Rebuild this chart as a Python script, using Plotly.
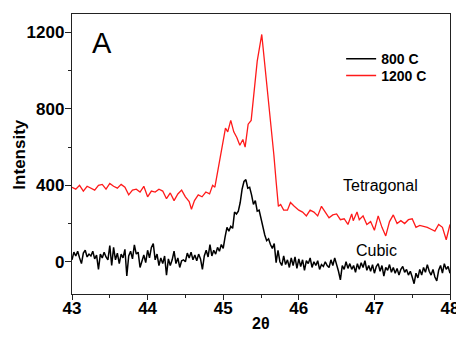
import plotly.graph_objects as go

# 800 C series (black), 2-theta step 0.025 from 43 to 48
x_800_start = 43.0
x_800_step = 0.025
y_800 = [
    10, 50, 30, 55, 20, -10, 45, 60, 25, 40,
    30, 55, 15, 35, -40, 40, 20, 50, 25, 10,
    85, -20, 75, 10, 45, -10, 40, 20, 65, -75,
    30, 55, 15, 88, 40, 50, -30, 10, 35, -5,
    60, 20, 75, 95, 10, 40, -20, 20, -10, 30,
    -70, 15, -20, 10, 55, -10, 20, -30, 5, 10,
    0, 45, 20, 50, 10, 35, 5, 40, 15, -40,
    30, 60, 25, 90, 30, 60, 40, 75, 55, 90,
    70, 130, 180, 160, 185, 175, 260, 250, 265, 310,
    380, 420, 430, 385, 390, 350, 300, 320, 265, 270,
    220, 175, 140, 110, 120, 90, 70, 95, -5, 60,
    0, -20, 30, -15, 10, -30, 20, -20, 25, -35,
    15, -25, 10, -45, 5, -10, 20, -30, 0, -20,
    5, -40, -15, -25, 0, -20, -30, 10, -20, 20,
    -10, -50, -95, -20, -40, 0, -35, -10, -40, -20,
    -55, -10, -40, -5, -30, 5, -45, -20, -50, -15,
    -60, -25, -10, -50, -20, -75, -30, -45, -15, -55,
    -30, -60, -35, -70, -40, -25, -55, -40, -70, -50,
    -80, -115, -60, -85, -40, -70, -30, -55, -15, -50,
    -70, -40, -80, -100, -45, -20, -60, -10, -40, -25,
    -60,
]
x_800 = [round(x_800_start + i * x_800_step, 3) for i in range(len(y_800))]

# 1200 C series (red)
x_1200 = [
    43.00, 43.05, 43.10, 43.15, 43.20, 43.25, 43.30, 43.35, 43.40, 43.45,
    43.50, 43.55, 43.60, 43.65, 43.70, 43.75, 43.80, 43.85, 43.90, 43.95,
    44.00, 44.05, 44.10, 44.15, 44.20, 44.25, 44.30, 44.35, 44.40, 44.45,
    44.50, 44.55, 44.58, 44.62, 44.67, 44.72, 44.77, 44.82, 44.86, 44.89,
    44.93, 44.97, 45.00, 45.03, 45.06, 45.10, 45.14, 45.18, 45.22, 45.26,
    45.29, 45.33, 45.37, 45.41, 45.45, 45.51, 45.56, 45.62, 45.67, 45.70,
    45.73, 45.76, 45.80, 45.85, 45.89, 45.94, 46.00, 46.05, 46.10, 46.15,
    46.20, 46.25, 46.30, 46.35, 46.40, 46.45, 46.50, 46.55, 46.60, 46.65,
    46.70, 46.72, 46.77, 46.80, 46.85, 46.90, 46.95, 47.00, 47.05, 47.10,
    47.15, 47.20, 47.25, 47.30, 47.35, 47.40, 47.45, 47.50, 47.55, 47.60,
    47.65, 47.70, 47.75, 47.80, 47.85, 47.90, 47.95, 48.00,
]
y_1200 = [
    390, 380, 400, 370, 395, 385, 375, 400, 405, 380,
    410, 395, 385, 405, 390, 350, 375, 380, 365, 395,
    340, 370, 365, 380, 370, 330, 360, 320, 355, 375,
    340, 315, 275, 320, 350, 340, 365, 355, 400, 390,
    480, 560, 650, 700, 680, 740, 680, 650, 610, 640,
    600, 720, 740, 900, 1050, 1190, 1000, 780, 560, 420,
    290, 300, 270, 270, 310, 290, 270, 260, 240, 270,
    260, 240, 290, 260, 230, 245, 250, 220, 225, 195,
    250, 215, 260, 220, 240, 195, 210, 165, 240, 180,
    135, 210, 245, 200, 215, 200, 220, 225, 180, 190,
    185, 180, 170, 160, 195, 180, 115, 195,
]

series_names = ["800 C", "1200 C"]
x_ticks = [43, 44, 45, 46, 47, 48]
y_ticks = [0, 400, 800, 1200]

FONT = "Liberation Sans, Arial, sans-serif"

fig = go.Figure()
fig.add_trace(go.Scatter(x=x_800, y=y_800, mode="lines", name=series_names[0],
                         line=dict(color="black", width=1.5), legend="legend"))
fig.add_trace(go.Scatter(x=x_1200, y=y_1200, mode="lines", name=series_names[1],
                         line=dict(color="#ff1a1a", width=1.3), legend="legend2"))

axis_common = dict(
    showline=True, linecolor="#222", linewidth=1.4, mirror=True,
    ticks="outside", tickwidth=1.3, tickcolor="#222",
    showgrid=False, zeroline=False,
    tickfont=dict(family=FONT, size=17, color="black", weight="bold"),
)

fig.update_xaxes(range=[43, 48], tickvals=x_ticks, ticklen=5, ticklabelstandoff=-7,
                 **axis_common,
                 minor=dict(ticks="outside", ticklen=3, dtick=0.5, tick0=43,
                            tickcolor="#222", tickwidth=1.2))
fig.update_yaxes(range=[-169, 1297], tickvals=y_ticks, ticklen=6, ticklabelstandoff=-3,
                 **axis_common,
                 minor=dict(ticks="outside", ticklen=3, dtick=200, tick0=0,
                            tickcolor="#222", tickwidth=1.2))

leg_common = dict(xanchor="left", yanchor="middle", bgcolor="rgba(0,0,0,0)",
                  borderwidth=0, itemwidth=30,
                  font=dict(family=FONT, size=14, color="black", weight="bold"))

fig.update_layout(
    width=456, height=330,
    margin=dict(l=64, r=10, t=5, b=44),
    paper_bgcolor="white", plot_bgcolor="white",
    font=dict(family=FONT, color="black"),
    showlegend=True,
    legend=dict(x=0.712, y=0.839, **leg_common),
    legend2=dict(x=0.712, y=0.779, **leg_common),
    annotations=[
        dict(text="A", x=0.08, y=0.895, xref="paper", yref="paper",
             showarrow=False, font=dict(family=FONT, size=29, color="black"),
             xanchor="center", yanchor="middle"),
        dict(text="Tetragonal", x=47.08, y=400, xref="x", yref="y",
             showarrow=False, font=dict(family=FONT, size=16, color="black"),
             xanchor="center", yanchor="middle"),
        dict(text="Cubic", x=47.03, y=57, xref="x", yref="y",
             showarrow=False, font=dict(family=FONT, size=16, color="black"),
             xanchor="center", yanchor="middle"),
        dict(text="2θ", x=0.5, y=-0.107, xref="paper", yref="paper",
             showarrow=False, font=dict(family=FONT, size=16, color="black", weight="bold"),
             xanchor="center", yanchor="middle"),
        dict(text="Intensity", x=-0.14, y=0.498, xref="paper", yref="paper",
             showarrow=False, textangle=-90,
             font=dict(family=FONT, size=17, color="black", weight="bold"),
             xanchor="center", yanchor="middle"),
    ],
)

fig.write_html("out.html")
